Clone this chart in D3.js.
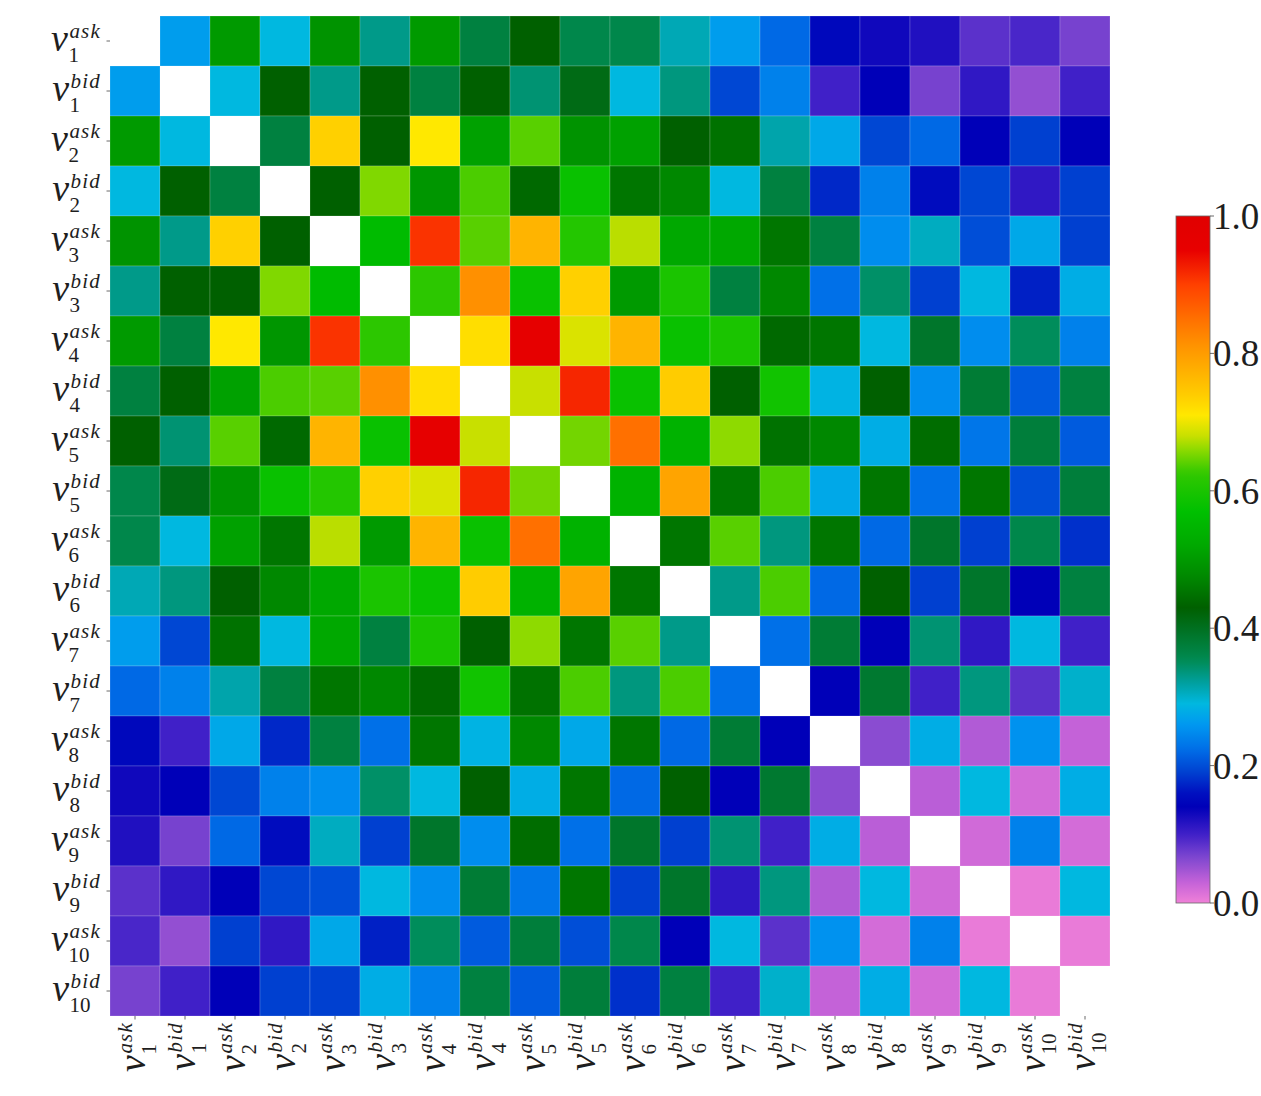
<!DOCTYPE html>
<html>
<head>
<meta charset="utf-8">
<script src="https://cdn.jsdelivr.net/npm/d3@7"></script>
<style>
  html, body { margin: 0; padding: 0; background: #ffffff; }
  svg { display: block; }
  text { fill: #1e1e1e; font-family: "Liberation Serif", "DejaVu Serif", serif; }
</style>
</head>
<body>
<svg id="chart" width="1261" height="1096"></svg>
<script>
// Order-book variables: ask/bid volumes at levels 1..10
const levels = [1, 2, 3, 4, 5, 6, 7, 8, 9, 10];
const sides = ["ask", "bid"];
const variables = levels.flatMap(l => sides.map(s => ({ level: l, side: s })));

// Lower triangle of the correlation matrix (row i holds columns 0..i-1); diagonal left blank
const row01 = [0.265];
const row02 = [0.50, 0.29];
const row03 = [0.29, 0.43, 0.37];
const row04 = [0.49, 0.33, 0.735, 0.43];
const row05 = [0.33, 0.43, 0.43, 0.655, 0.56];
const row06 = [0.50, 0.37, 0.71, 0.495, 0.91, 0.62];
const row07 = [0.37, 0.43, 0.51, 0.635, 0.64, 0.815, 0.72];
const row08 = [0.43, 0.34, 0.64, 0.44, 0.77, 0.58, 0.96, 0.68];
const row09 = [0.36, 0.41, 0.49, 0.58, 0.61, 0.735, 0.69, 0.92, 0.65];
const row10 = [0.36, 0.29, 0.51, 0.455, 0.675, 0.50, 0.77, 0.58, 0.85, 0.54];
const row11 = [0.31, 0.335, 0.43, 0.475, 0.52, 0.60, 0.58, 0.74, 0.54, 0.79, 0.455];
const row12 = [0.265, 0.195, 0.45, 0.29, 0.52, 0.37, 0.60, 0.43, 0.66, 0.455, 0.64, 0.33];
const row13 = [0.22, 0.24, 0.315, 0.37, 0.455, 0.475, 0.44, 0.59, 0.45, 0.635, 0.335, 0.635, 0.225];
const row14 = [0.15, 0.10, 0.275, 0.175, 0.37, 0.225, 0.455, 0.285, 0.475, 0.275, 0.455, 0.22, 0.38, 0.14];
const row15 = [0.13, 0.14, 0.195, 0.24, 0.25, 0.345, 0.29, 0.43, 0.28, 0.455, 0.22, 0.43, 0.14, 0.385, 0.06];
const row16 = [0.12, 0.07, 0.22, 0.155, 0.305, 0.19, 0.39, 0.25, 0.445, 0.225, 0.39, 0.19, 0.34, 0.10, 0.28, 0.035];
const row17 = [0.085, 0.11, 0.14, 0.195, 0.20, 0.29, 0.25, 0.38, 0.23, 0.455, 0.19, 0.39, 0.11, 0.335, 0.04, 0.29, 0.022];
const row18 = [0.095, 0.055, 0.19, 0.11, 0.275, 0.17, 0.35, 0.21, 0.375, 0.20, 0.36, 0.14, 0.29, 0.085, 0.255, 0.02, 0.24, 0.005];
const row19 = [0.07, 0.10, 0.14, 0.19, 0.19, 0.28, 0.24, 0.37, 0.21, 0.375, 0.18, 0.37, 0.10, 0.30, 0.03, 0.28, 0.02, 0.29, 0.005];
const lowerRows = [[], row01, row02, row03, row04, row05, row06, row07, row08, row09,
                   row10, row11, row12, row13, row14, row15, row16, row17, row18, row19];

// Colour bar ticks
const colorbarTicks = [0.0, 0.2, 0.4, 0.6, 0.8, 1.0];

// Colour map: pink -> violet -> blue -> cyan -> dark green -> green -> yellow -> orange -> red
const cmapStops  = [0.00, 0.03, 0.065, 0.10, 0.14, 0.16, 0.19, 0.225, 0.26, 0.29, 0.32, 0.355, 0.40, 0.43, 0.475, 0.52, 0.57, 0.625, 0.655, 0.68, 0.71, 0.735, 0.775, 0.815, 0.85, 0.90, 0.95, 1.00];
const cmapColors = ["#f080d8", "#c462d8", "#8048d0", "#4020c8", "#0000b8", "#0010c0", "#0040d0", "#0070e8", "#0098f0", "#00b8e0", "#00a0a0", "#008a50", "#007020", "#006000", "#008800", "#00a800", "#00c000", "#30c800", "#80d800", "#c8e000", "#ffe800", "#ffd000", "#ffb000", "#ff9000", "#ff7000", "#ff4000", "#e80000", "#e00000"];
const color = d3.scaleLinear().domain(cmapStops).range(cmapColors).interpolate(d3.interpolateRgb).clamp(true);

// Build full symmetric matrix cells
const n = variables.length;
const cells = [];
for (let i = 0; i < n; i++) {
  for (let j = 0; j < n; j++) {
    if (i === j) continue;
    const v = i > j ? lowerRows[i][j] : lowerRows[j][i];
    cells.push({ row: i, col: j, value: v });
  }
}

const svg = d3.select("#chart");

const plotLeft = 110, plotTop = 16, plotSize = 1000;
const x = d3.scaleBand().domain(d3.range(n)).range([plotLeft, plotLeft + plotSize]);
const y = d3.scaleBand().domain(d3.range(n)).range([plotTop, plotTop + plotSize]);

// Heatmap cells
svg.append("g").selectAll("rect")
  .data(cells)
  .join("rect")
  .attr("x", d => x(d.col))
  .attr("y", d => y(d.row))
  .attr("width", x.bandwidth())
  .attr("height", y.bandwidth())
  .attr("fill", d => color(d.value))
  .attr("stroke", "#ffffff")
  .attr("stroke-opacity", 0.3)
  .attr("stroke-width", 0.6);

// Math-style label sizes
const baseSize = 38, scriptSize = 21;
const probe = svg.append("text").style("font-size", baseSize + "px").style("font-style", "italic").text("v");
const vWidth = probe.node().getComputedTextLength();
probe.remove();

// Italic v with stacked superscript (side) and subscript (level), as one text element
function drawLabel(g, d) {
  const t = g.append("text").attr("x", 0).attr("y", 0);
  t.append("tspan").style("font-size", baseSize + "px").style("font-style", "italic").text("v");
  t.append("tspan").attr("x", vWidth + 1.5).attr("dy", -13)
    .style("font-size", scriptSize + "px").style("font-style", "italic")
    .style("letter-spacing", "1.2px").text(d.side);
  t.append("tspan").attr("x", vWidth + 0.5).attr("dy", 24)
    .style("font-size", scriptSize + "px").text(d.level);
  return t;
}

// Y axis labels + ticks
const yAxis = svg.append("g");
variables.forEach((d, i) => {
  const cy = y(i) + y.bandwidth() / 2;
  const inner = yAxis.append("g");
  drawLabel(inner, d);
  const bb = inner.node().getBBox();
  inner.attr("transform", `translate(${101 - (bb.x + bb.width)},${cy - (bb.y + bb.height / 2) + 1})`);
  yAxis.append("line")
    .attr("x1", plotLeft - 3.5).attr("x2", plotLeft)
    .attr("y1", cy).attr("y2", cy)
    .attr("stroke", "#444").attr("stroke-width", 0.8);
});

// X axis labels (rotated) + ticks
const xAxis = svg.append("g");
const xLabelTop = plotTop + plotSize + 6;
variables.forEach((d, j) => {
  const cx = x(j) + x.bandwidth() / 2;
  const outer = xAxis.append("g").attr("transform", `translate(${cx},${xLabelTop}) rotate(-90)`);
  const inner = outer.append("g");
  drawLabel(inner, d);
  const bb = inner.node().getBBox();
  inner.attr("transform", `translate(${-(bb.x + bb.width)},${-(bb.y + bb.height / 2) + 1})`);
  xAxis.append("line")
    .attr("x1", cx).attr("x2", cx)
    .attr("y1", plotTop + plotSize).attr("y2", plotTop + plotSize + 3.5)
    .attr("stroke", "#444").attr("stroke-width", 0.8);
});

// Colour bar
const cbLeft = 1176, cbWidth = 34, cbTop = 216, cbBottom = 903;
const cbScale = d3.scaleLinear().domain([0, 1]).range([cbBottom, cbTop]);
const defs = svg.append("defs");
const grad = defs.append("linearGradient").attr("id", "cbGrad")
  .attr("x1", 0).attr("y1", 1).attr("x2", 0).attr("y2", 0);
d3.range(0, 1.0001, 0.01).forEach(t => {
  grad.append("stop").attr("offset", t).attr("stop-color", color(t));
});
svg.append("rect")
  .attr("x", cbLeft).attr("y", cbTop)
  .attr("width", cbWidth).attr("height", cbBottom - cbTop)
  .attr("fill", "url(#cbGrad)")
  .attr("stroke", "#666").attr("stroke-width", 0.8);

const cbAxis = svg.append("g");
colorbarTicks.forEach(t => {
  const ty = cbScale(t);
  cbAxis.append("line")
    .attr("x1", cbLeft + cbWidth).attr("x2", cbLeft + cbWidth + 4)
    .attr("y1", ty).attr("y2", ty)
    .attr("stroke", "#444").attr("stroke-width", 0.8);
  cbAxis.append("text")
    .attr("x", cbLeft + cbWidth + 3)
    .attr("y", ty)
    .attr("dy", "0.35em")
    .style("font-size", "37px")
    .text(t.toFixed(1));
});
</script>
</body>
</html>
